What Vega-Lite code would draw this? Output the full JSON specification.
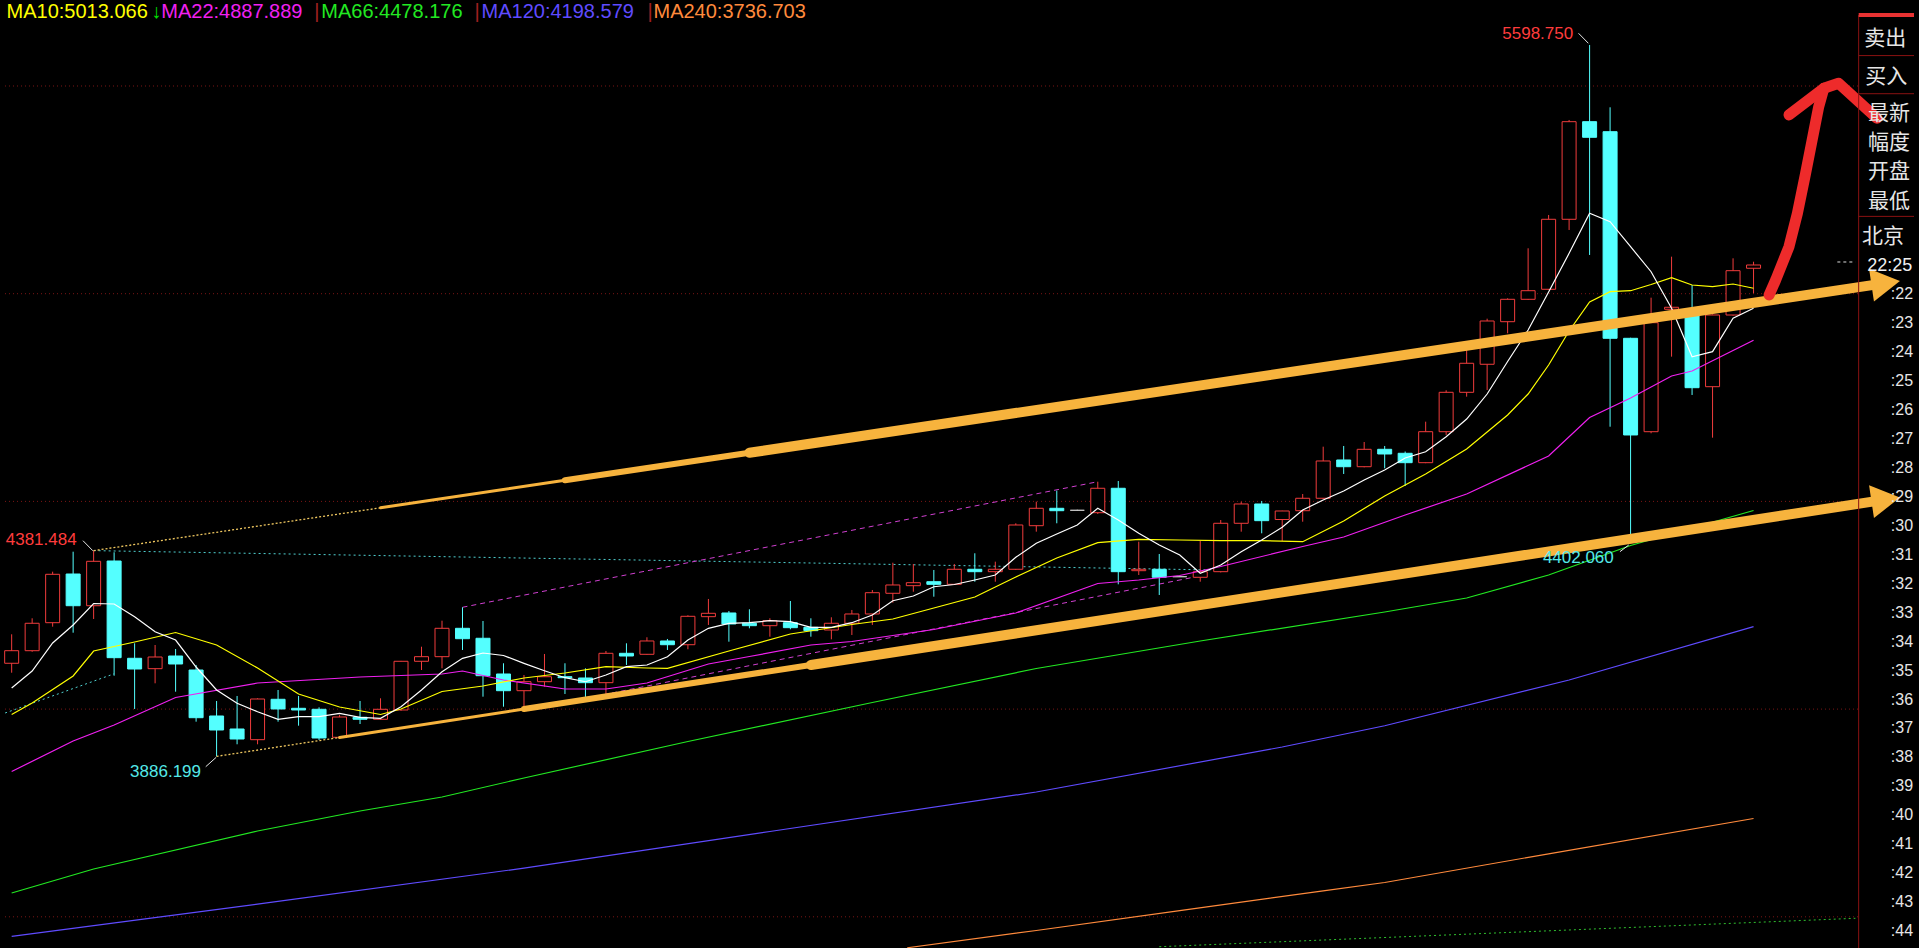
{
"$schema":"https://vega.github.io/schema/vega-lite/v6.json",
"width":1919,"height":948,"autosize":{"type":"none"},"padding":0,"background":"#000000",
"config":{"view":{"stroke":null}},
"datasets":{
"grid":[{"p":5500},{"p":5000},{"p":4500},{"p":4000},{"p":3500}],
"candles":[
{"i":0,"o":4110.3,"h":4180.1,"l":4087.6,"c":4140.6,"d":"up"},
{"i":1,"o":4140.6,"h":4218.6,"l":4138.0,"c":4206.6,"d":"up"},
{"i":2,"o":4208.0,"h":4330.8,"l":4198.4,"c":4324.5,"d":"up"},
{"i":3,"o":4325.2,"h":4378.9,"l":4183.9,"c":4248.9,"d":"down"},
{"i":4,"o":4248.9,"h":4381.5,"l":4216.9,"c":4355.8,"d":"up"},
{"i":5,"o":4356.5,"h":4377.5,"l":4080.4,"c":4123.8,"d":"down"},
{"i":6,"o":4122.3,"h":4158.4,"l":4000.3,"c":4096.5,"d":"down"},
{"i":7,"o":4097.3,"h":4154.3,"l":4062.1,"c":4125.4,"d":"up"},
{"i":8,"o":4127.8,"h":4144.7,"l":4041.9,"c":4108.6,"d":"down"},
{"i":9,"o":4094.1,"h":4106.2,"l":3969.7,"c":3979.3,"d":"down"},
{"i":10,"o":3983.4,"h":4019.5,"l":3886.2,"c":3949.7,"d":"down"},
{"i":11,"o":3952.1,"h":4031.6,"l":3915.3,"c":3928.0,"d":"down"},
{"i":12,"o":3926.4,"h":4026.0,"l":3915.3,"c":4024.3,"d":"up"},
{"i":13,"o":4023.6,"h":4046.0,"l":3969.7,"c":4000.3,"d":"down"},
{"i":14,"o":4001.9,"h":4031.6,"l":3960.1,"c":3997.9,"d":"down"},
{"i":15,"o":3999.5,"h":4004.3,"l":3925.6,"c":3930.4,"d":"down"},
{"i":16,"o":3932.1,"h":3985.8,"l":3930.0,"c":3981.0,"d":"up"},
{"i":17,"o":3980.3,"h":4019.5,"l":3964.1,"c":3975.5,"d":"down"},
{"i":18,"o":3975.5,"h":4026.0,"l":3973.8,"c":3999.5,"d":"up"},
{"i":19,"o":3997.9,"h":4116.0,"l":3996.0,"c":4115.1,"d":"up"},
{"i":20,"o":4115.1,"h":4150.2,"l":4094.1,"c":4126.2,"d":"up"},
{"i":21,"o":4126.2,"h":4212.8,"l":4098.2,"c":4194.5,"d":"up"},
{"i":22,"o":4194.5,"h":4245.1,"l":4142.3,"c":4169.5,"d":"down"},
{"i":23,"o":4170.5,"h":4212.1,"l":4029.9,"c":4080.4,"d":"down"},
{"i":24,"o":4084.5,"h":4110.3,"l":4005.8,"c":4044.3,"d":"down"},
{"i":25,"o":4044.3,"h":4082.1,"l":4001.9,"c":4066.0,"d":"up"},
{"i":26,"o":4066.0,"h":4132.7,"l":4053.9,"c":4078.0,"d":"up"},
{"i":27,"o":4078.0,"h":4110.3,"l":4036.4,"c":4075.6,"d":"down"},
{"i":28,"o":4074.9,"h":4098.2,"l":4026.0,"c":4063.6,"d":"down"},
{"i":29,"o":4063.6,"h":4139.9,"l":4036.4,"c":4134.3,"d":"up"},
{"i":30,"o":4134.3,"h":4158.4,"l":4106.2,"c":4127.8,"d":"down"},
{"i":31,"o":4131.9,"h":4172.9,"l":4131.0,"c":4164.0,"d":"up"},
{"i":32,"o":4164.0,"h":4168.8,"l":4142.3,"c":4155.0,"d":"down"},
{"i":33,"o":4155.0,"h":4225.8,"l":4144.0,"c":4223.4,"d":"up"},
{"i":34,"o":4222.5,"h":4265.1,"l":4202.5,"c":4230.6,"d":"up"},
{"i":35,"o":4231.4,"h":4236.2,"l":4162.3,"c":4204.9,"d":"down"},
{"i":36,"o":4206.6,"h":4240.3,"l":4194.5,"c":4200.8,"d":"down"},
{"i":37,"o":4200.8,"h":4218.6,"l":4174.3,"c":4212.8,"d":"up"},
{"i":38,"o":4208.0,"h":4260.2,"l":4192.1,"c":4196.0,"d":"down"},
{"i":39,"o":4196.9,"h":4218.6,"l":4174.3,"c":4188.8,"d":"down"},
{"i":40,"o":4190.4,"h":4221.0,"l":4168.0,"c":4206.6,"d":"up"},
{"i":41,"o":4206.6,"h":4238.6,"l":4178.4,"c":4229.0,"d":"up"},
{"i":42,"o":4229.0,"h":4286.7,"l":4202.5,"c":4280.2,"d":"up"},
{"i":43,"o":4278.8,"h":4352.4,"l":4256.2,"c":4298.8,"d":"up"},
{"i":44,"o":4297.1,"h":4349.3,"l":4282.6,"c":4304.3,"d":"up"},
{"i":45,"o":4306.7,"h":4334.9,"l":4270.6,"c":4300.4,"d":"down"},
{"i":46,"o":4300.4,"h":4349.3,"l":4299.0,"c":4336.6,"d":"up"},
{"i":47,"o":4336.6,"h":4375.1,"l":4306.7,"c":4330.8,"d":"down"},
{"i":48,"o":4330.8,"h":4354.9,"l":4306.7,"c":4336.6,"d":"up"},
{"i":49,"o":4336.6,"h":4447.3,"l":4335.0,"c":4443.2,"d":"up"},
{"i":50,"o":4441.5,"h":4499.3,"l":4427.1,"c":4483.4,"d":"up"},
{"i":51,"o":4483.4,"h":4525.8,"l":4447.3,"c":4477.6,"d":"down"},
{"i":52,"o":4478.6,"h":4480.0,"l":4477.0,"c":4478.6,"d":"flat"},
{"i":53,"o":4472.8,"h":4547.4,"l":4469.7,"c":4531.6,"d":"up"},
{"i":54,"o":4531.6,"h":4549.1,"l":4300.4,"c":4330.8,"d":"down"},
{"i":55,"o":4333.2,"h":4403.0,"l":4322.8,"c":4336.6,"d":"up"},
{"i":56,"o":4336.6,"h":4373.4,"l":4274.7,"c":4317.3,"d":"down"},
{"i":57,"o":4318.7,"h":4319.5,"l":4318.0,"c":4318.7,"d":"flat"},
{"i":58,"o":4317.3,"h":4404.7,"l":4306.7,"c":4330.8,"d":"up"},
{"i":59,"o":4330.8,"h":4455.2,"l":4329.0,"c":4447.3,"d":"up"},
{"i":60,"o":4447.3,"h":4499.3,"l":4427.1,"c":4493.8,"d":"up"},
{"i":61,"o":4493.8,"h":4501.0,"l":4423.2,"c":4453.6,"d":"down"},
{"i":62,"o":4456.4,"h":4477.5,"l":4404.7,"c":4476.9,"d":"up"},
{"i":63,"o":4477.6,"h":4517.8,"l":4451.1,"c":4507.5,"d":"up"},
{"i":64,"o":4507.5,"h":4631.7,"l":4506.0,"c":4597.3,"d":"up"},
{"i":65,"o":4599.7,"h":4633.4,"l":4566.0,"c":4583.5,"d":"down"},
{"i":66,"o":4583.5,"h":4643.0,"l":4582.0,"c":4625.4,"d":"up"},
{"i":67,"o":4625.4,"h":4633.4,"l":4579.7,"c":4614.1,"d":"down"},
{"i":68,"o":4615.8,"h":4620.1,"l":4537.1,"c":4593.2,"d":"down"},
{"i":69,"o":4593.2,"h":4691.9,"l":4592.0,"c":4667.8,"d":"up"},
{"i":70,"o":4667.8,"h":4767.5,"l":4659.9,"c":4762.6,"d":"up"},
{"i":71,"o":4762.6,"h":4864.5,"l":4752.1,"c":4832.5,"d":"up"},
{"i":72,"o":4830.1,"h":4939.8,"l":4768.2,"c":4934.3,"d":"up"},
{"i":73,"o":4932.6,"h":4988.9,"l":4904.7,"c":4986.5,"d":"up"},
{"i":74,"o":4986.5,"h":5109.3,"l":4985.0,"c":5007.2,"d":"up"},
{"i":75,"o":5010.6,"h":5189.5,"l":5009.0,"c":5179.1,"d":"up"},
{"i":76,"o":5179.1,"h":5418.2,"l":5153.4,"c":5414.1,"d":"up"},
{"i":77,"o":5414.1,"h":5598.75,"l":5093.2,"c":5376.5,"d":"down"},
{"i":78,"o":5390.0,"h":5448.7,"l":4679.8,"c":4892.6,"d":"down"},
{"i":79,"o":4892.6,"h":4894.0,"l":4402.06,"c":4659.9,"d":"down"},
{"i":80,"o":4667.8,"h":4990.4,"l":4664.0,"c":4930.2,"d":"up"},
{"i":81,"o":4962.5,"h":5089.1,"l":4848.4,"c":4967.3,"d":"up"},
{"i":82,"o":4946.3,"h":5021.0,"l":4756.2,"c":4773.7,"d":"down"},
{"i":83,"o":4776.1,"h":4950.0,"l":4653.4,"c":4948.7,"d":"up"},
{"i":84,"o":4948.7,"h":5085.2,"l":4947.0,"c":5055.4,"d":"up"},
{"i":85,"o":5061.2,"h":5077.0,"l":5001.0,"c":5069.1,"d":"up"}
],
"ma":[
{"m":"MA240","i":43.7,"p":3425.5},{"m":"MA240","i":50,"p":3467.0},{"m":"MA240","i":57,"p":3515.0},{"m":"MA240","i":64,"p":3562.6},{"m":"MA240","i":67,"p":3582.6},{"m":"MA240","i":75,"p":3651.7},{"m":"MA240","i":85,"p":3736.7},
{"m":"MA120","i":0,"p":3452.8},{"m":"MA120","i":12,"p":3530.6},{"m":"MA120","i":25,"p":3617.2},{"m":"MA120","i":37,"p":3705.3},{"m":"MA120","i":50,"p":3800.4},{"m":"MA120","i":62,"p":3908.7},{"m":"MA120","i":67,"p":3960.0},{"m":"MA120","i":76,"p":4070.0},{"m":"MA120","i":85,"p":4198.58},
{"m":"MA66","i":0,"p":3557.3},{"m":"MA66","i":4,"p":3615.1},{"m":"MA66","i":12,"p":3706.5},{"m":"MA66","i":17,"p":3754.7},{"m":"MA66","i":21,"p":3788.4},{"m":"MA66","i":25,"p":3834.1},{"m":"MA66","i":33,"p":3922.0},{"m":"MA66","i":42,"p":4015.9},{"m":"MA66","i":50,"p":4097.7},{"m":"MA66","i":58,"p":4163.9},{"m":"MA66","i":67,"p":4233.7},{"m":"MA66","i":71,"p":4267.4},{"m":"MA66","i":75,"p":4322.8},{"m":"MA66","i":79,"p":4393.8},{"m":"MA66","i":82,"p":4435.9},{"m":"MA66","i":85,"p":4478.18},
{"m":"MA22","i":0,"p":3849.8},{"m":"MA22","i":3,"p":3923.2},{"m":"MA22","i":5,"p":3961.7},{"m":"MA22","i":8,"p":4027.9},{"m":"MA22","i":12,"p":4062.8},{"m":"MA22","i":17,"p":4077.3},{"m":"MA22","i":21,"p":4084.5},{"m":"MA22","i":22,"p":4091.7},{"m":"MA22","i":24,"p":4070.0},{"m":"MA22","i":27,"p":4048.4},{"m":"MA22","i":29,"p":4048.4},{"m":"MA22","i":31,"p":4062.8},{"m":"MA22","i":34,"p":4108.6},{"m":"MA22","i":36,"p":4126.6},{"m":"MA22","i":39,"p":4154.3},{"m":"MA22","i":41,"p":4162.7},{"m":"MA22","i":43,"p":4177.2},{"m":"MA22","i":45,"p":4191.6},{"m":"MA22","i":49,"p":4231.3},{"m":"MA22","i":53,"p":4302.3},{"m":"MA22","i":55,"p":4310.8},{"m":"MA22","i":57,"p":4321.6},{"m":"MA22","i":59,"p":4343.3},{"m":"MA22","i":63,"p":4391.4},{"m":"MA22","i":65,"p":4414.3},{"m":"MA22","i":68,"p":4467.2},{"m":"MA22","i":71,"p":4517.8},{"m":"MA22","i":75,"p":4609.3},{"m":"MA22","i":77,"p":4702.0},{"m":"MA22","i":79,"p":4748.9},{"m":"MA22","i":81,"p":4801.9},{"m":"MA22","i":82,"p":4813.9},{"m":"MA22","i":85,"p":4887.89},
{"m":"MA10","i":0,"p":3987.0},{"m":"MA10","i":1,"p":4014.7},{"m":"MA10","i":3,"p":4079.7},{"m":"MA10","i":4,"p":4139.8},{"m":"MA10","i":6,"p":4161.5},{"m":"MA10","i":8,"p":4184.4},{"m":"MA10","i":10,"p":4154.3},{"m":"MA10","i":12,"p":4098.9},{"m":"MA10","i":14,"p":4036.3},{"m":"MA10","i":16,"p":4005.0},{"m":"MA10","i":18,"p":3987.0},{"m":"MA10","i":19,"p":4000.2},{"m":"MA10","i":21,"p":4042.3},{"m":"MA10","i":23,"p":4055.6},{"m":"MA10","i":25,"p":4074.9},{"m":"MA10","i":27,"p":4086.9},{"m":"MA10","i":29,"p":4102.1},{"m":"MA10","i":31,"p":4098.9},{"m":"MA10","i":32,"p":4098.2},{"m":"MA10","i":35,"p":4139.8},{"m":"MA10","i":38,"p":4180.8},{"m":"MA10","i":41,"p":4203.6},{"m":"MA10","i":43,"p":4216.9},{"m":"MA10","i":45,"p":4243.4},{"m":"MA10","i":47,"p":4269.8},{"m":"MA10","i":49,"p":4318.0},{"m":"MA10","i":51,"p":4363.7},{"m":"MA10","i":53,"p":4400.6},{"m":"MA10","i":55,"p":4408.7},{"m":"MA10","i":57,"p":4407.1},{"m":"MA10","i":59,"p":4405.4},{"m":"MA10","i":61,"p":4405.4},{"m":"MA10","i":63,"p":4403.0},{"m":"MA10","i":65,"p":4452.8},{"m":"MA10","i":67,"p":4513.0},{"m":"MA10","i":69,"p":4565.9},{"m":"MA10","i":71,"p":4626.1},{"m":"MA10","i":73,"p":4708.0},{"m":"MA10","i":74,"p":4758.5},{"m":"MA10","i":75,"p":4828.3},{"m":"MA10","i":76,"p":4910.2},{"m":"MA10","i":77,"p":4980.0},{"m":"MA10","i":78,"p":5004.8},{"m":"MA10","i":79,"p":5007.2},{"m":"MA10","i":80,"p":5022.1},{"m":"MA10","i":81,"p":5038.5},{"m":"MA10","i":82,"p":5020.9},{"m":"MA10","i":83,"p":5016.8},{"m":"MA10","i":84,"p":5023.3},{"m":"MA10","i":85,"p":5013.07},
{"m":"MA5","i":0,"p":4050.8},{"m":"MA5","i":1,"p":4091.7},{"m":"MA5","i":2,"p":4159.1},{"m":"MA5","i":3,"p":4202.4},{"m":"MA5","i":4,"p":4254.2},{"m":"MA5","i":5,"p":4253.0},{"m":"MA5","i":6,"p":4222.4},{"m":"MA5","i":7,"p":4186.3},{"m":"MA5","i":8,"p":4166.3},{"m":"MA5","i":9,"p":4101.3},{"m":"MA5","i":10,"p":4046.0},{"m":"MA5","i":11,"p":4013.9},{"m":"MA5","i":12,"p":3993.7},{"m":"MA5","i":13,"p":3975.4},{"m":"MA5","i":14,"p":3981.7},{"m":"MA5","i":15,"p":3981.7},{"m":"MA5","i":16,"p":3989.9},{"m":"MA5","i":17,"p":3980.2},{"m":"MA5","i":18,"p":3977.8},{"m":"MA5","i":19,"p":4005.8},{"m":"MA5","i":20,"p":4046.0},{"m":"MA5","i":21,"p":4090.0},{"m":"MA5","i":22,"p":4122.3},{"m":"MA5","i":23,"p":4135.0},{"m":"MA5","i":24,"p":4129.0},{"m":"MA5","i":25,"p":4110.2},{"m":"MA5","i":26,"p":4092.4},{"m":"MA5","i":27,"p":4075.6},{"m":"MA5","i":28,"p":4065.9},{"m":"MA5","i":29,"p":4082.1},{"m":"MA5","i":30,"p":4102.1},{"m":"MA5","i":31,"p":4106.1},{"m":"MA5","i":32,"p":4126.1},{"m":"MA5","i":33,"p":4166.3},{"m":"MA5","i":34,"p":4194.5},{"m":"MA5","i":35,"p":4206.5},{"m":"MA5","i":36,"p":4208.0},{"m":"MA5","i":37,"p":4212.8},{"m":"MA5","i":38,"p":4210.4},{"m":"MA5","i":39,"p":4196.9},{"m":"MA5","i":40,"p":4196.9},{"m":"MA5","i":41,"p":4208.0},{"m":"MA5","i":42,"p":4226.5},{"m":"MA5","i":43,"p":4260.9},{"m":"MA5","i":44,"p":4272.2},{"m":"MA5","i":45,"p":4294.6},{"m":"MA5","i":46,"p":4299.9},{"m":"MA5","i":47,"p":4310.8},{"m":"MA5","i":48,"p":4322.8},{"m":"MA5","i":49,"p":4365.4},{"m":"MA5","i":50,"p":4399.1},{"m":"MA5","i":51,"p":4421.5},{"m":"MA5","i":52,"p":4443.2},{"m":"MA5","i":53,"p":4483.4},{"m":"MA5","i":54,"p":4455.2},{"m":"MA5","i":55,"p":4423.2},{"m":"MA5","i":56,"p":4395.0},{"m":"MA5","i":57,"p":4370.9},{"m":"MA5","i":58,"p":4326.9},{"m":"MA5","i":59,"p":4346.9},{"m":"MA5","i":60,"p":4378.9},{"m":"MA5","i":61,"p":4407.1},{"m":"MA5","i":62,"p":4437.6},{"m":"MA5","i":63,"p":4479.3},{"m":"MA5","i":64,"p":4503.3},{"m":"MA5","i":65,"p":4525.0},{"m":"MA5","i":66,"p":4551.5},{"m":"MA5","i":67,"p":4575.6},{"m":"MA5","i":68,"p":4604.5},{"m":"MA5","i":69,"p":4619.6},{"m":"MA5","i":70,"p":4655.7},{"m":"MA5","i":71,"p":4698.3},{"m":"MA5","i":72,"p":4758.5},{"m":"MA5","i":73,"p":4836.8},{"m":"MA5","i":74,"p":4912.6},{"m":"MA5","i":75,"p":5004.1},{"m":"MA5","i":76,"p":5097.2},{"m":"MA5","i":77,"p":5193.5},{"m":"MA5","i":78,"p":5173.3},{"m":"MA5","i":79,"p":5113.1},{"m":"MA5","i":80,"p":5052.9},{"m":"MA5","i":81,"p":4964.8},{"m":"MA5","i":82,"p":4848.3},{"m":"MA5","i":83,"p":4860.4},{"m":"MA5","i":84,"p":4940.8},{"m":"MA5","i":85,"p":4964.8}
],
"guides":[
{"g":"a","col":"cyan","dash":"dot","i":4,"p":4381.5},{"g":"a","col":"cyan","dash":"dot","i":58.66,"p":4334.9},
{"g":"b","col":"cyan","dash":"dot","i":-0.32,"p":3990.6},{"g":"b","col":"cyan","dash":"dot","i":5,"p":4085.0},
{"g":"c","col":"mag","dash":"dash","i":22,"p":4245.1},{"g":"c","col":"mag","dash":"dash","i":53,"p":4547.4},
{"g":"d","col":"mag","dash":"dash","i":28,"p":4026.0},{"g":"d","col":"mag","dash":"dash","i":58,"p":4320.6},
{"g":"e","col":"greenDot","dash":"dot","i":56,"p":3428.0},{"g":"e","col":"greenDot","dash":"dot","i":89.97,"p":3496.4}
],
"trend":[
{"k":"U1","seg":"w1","i":4,"p":4381.5},{"k":"U1","seg":"w1","i":18,"p":4484.6},
{"k":"U3","seg":"w3","i":18,"p":4484.6},{"k":"U3","seg":"w3","i":27,"p":4550.9},
{"k":"U6","seg":"w6","i":27,"p":4550.9},{"k":"U6","seg":"w6","i":36,"p":4617.1},
{"k":"U10","seg":"w10","i":36,"p":4617.1},{"k":"U10","seg":"w10","i":91.2,"p":5023.6},
{"k":"L1","seg":"w1","i":10,"p":3886.2},{"k":"L1","seg":"w1","i":16,"p":3931.7},
{"k":"L3","seg":"w3","i":16,"p":3931.7},{"k":"L3","seg":"w3","i":25,"p":4000.1},
{"k":"L6","seg":"w6","i":25,"p":4000.1},{"k":"L6","seg":"w6","i":39,"p":4106.3},
{"k":"L10","seg":"w10","i":39,"p":4106.3},{"k":"L10","seg":"w10","i":91.2,"p":4502.5}
],
"heads":[{"i":91.45,"p":5025.5},{"i":91.45,"p":4504.4}],
"red":[
{"s":"shaft","q":1,"i":85.76,"p":4996.9},{"s":"shaft","q":2,"i":86.08,"p":5032.9},{"s":"shaft","q":3,"i":86.73,"p":5113.1},{"s":"shaft","q":4,"i":87.14,"p":5193.5},{"s":"shaft","q":5,"i":87.54,"p":5289.8},{"s":"shaft","q":6,"i":87.86,"p":5370.0},{"s":"shaft","q":7,"i":88.18,"p":5450.2},{"s":"shaft","q":8,"i":88.43,"p":5494.5},
{"s":"head","q":1,"i":86.73,"p":5430.2},{"s":"head","q":2,"i":88.43,"p":5494.5},{"s":"head","q":3,"i":89.15,"p":5506.5},{"s":"head","q":4,"i":91.02,"p":5422.2}
],
"pointers":[
{"i":3.48,"p":4405.4,"i2":3.96,"p2":4381.3},
{"i":9.47,"p":3861.3,"i2":9.98,"p2":3883.9},
{"i":76.46,"p":5626.9,"i2":76.94,"p2":5602.8},
{"i":78.48,"p":4378.9,"i2":78.91,"p2":4395.0}
],
"labels":[
{"t":"4381.484","k":"high","i":3.17,"p":4395.1},
{"t":"3886.199","k":"low","i":9.24,"p":3836.5},
{"t":"5598.750","k":"high","i":76.2,"p":5612.4},
{"t":"4402.060","k":"low","i":78.18,"p":4351.0}
],
"legend":[
{"t":"MA10:5013.066","k":"MA10","i":-0.25,"p":5664.5},
{"t":"↓","k":"arrow","i":6.81,"p":5664.5},
{"t":"MA22:4887.889","k":"MA22","i":7.3,"p":5664.5},
{"t":"|","k":"sep","i":14.77,"p":5664.5},
{"t":"MA66:4478.176","k":"MA66","i":15.11,"p":5664.5},
{"t":"|","k":"sep","i":22.59,"p":5664.5},
{"t":"MA120:4198.579","k":"MA120","i":22.93,"p":5664.5},
{"t":"|","k":"sep","i":31.03,"p":5664.5},
{"t":"MA240:3736.703","k":"MA240","i":31.32,"p":5664.5}
],
"frame":[
{"k":"line","i":90.13,"p":5670.9,"i2":90.13,"p2":3424.9},
{"k":"line","i":90.13,"p":5573.2,"i2":92.83,"p2":5573.2},
{"k":"line","i":90.13,"p":5481.4,"i2":92.83,"p2":5481.4},
{"k":"line","i":90.13,"p":5186.1,"i2":92.83,"p2":5186.1},
{"k":"top","i":90.13,"p":5670.9,"i2":92.83,"p2":5670.9},
{"k":"mark","i":89.09,"p":5076.3,"i2":89.97,"p2":5076.3}
],
"panel":[
{"g":"head","t":"卖出","i":90.4,"p":5613.6},
{"g":"head","t":"买入","i":90.45,"p":5521.7},
{"g":"head","t":"最新","i":90.58,"p":5433.3},
{"g":"head","t":"幅度","i":90.58,"p":5362.1},
{"g":"head","t":"开盘","i":90.58,"p":5291.8},
{"g":"head","t":"最低","i":90.58,"p":5221.5},
{"g":"head","t":"北京","i":90.29,"p":5135.3},
{"g":"time","t":"22:25","i":90.55,"p":5066.7},
{"g":"list","t":":22","i":91.7,"p":4998.3},
{"g":"list","t":":23","i":91.7,"p":4928.7},
{"g":"list","t":":24","i":91.7,"p":4859.0},
{"g":"list","t":":25","i":91.7,"p":4789.3},
{"g":"list","t":":26","i":91.7,"p":4719.6},
{"g":"list","t":":27","i":91.7,"p":4650.0},
{"g":"list","t":":28","i":91.7,"p":4580.3},
{"g":"list","t":":29","i":91.7,"p":4510.6},
{"g":"list","t":":30","i":91.7,"p":4441.0},
{"g":"list","t":":31","i":91.7,"p":4371.3},
{"g":"list","t":":32","i":91.7,"p":4301.6},
{"g":"list","t":":33","i":91.7,"p":4231.9},
{"g":"list","t":":34","i":91.7,"p":4162.3},
{"g":"list","t":":35","i":91.7,"p":4092.6},
{"g":"list","t":":36","i":91.7,"p":4022.9},
{"g":"list","t":":37","i":91.7,"p":3953.3},
{"g":"list","t":":38","i":91.7,"p":3883.6},
{"g":"list","t":":39","i":91.7,"p":3813.9},
{"g":"list","t":":40","i":91.7,"p":3744.2},
{"g":"list","t":":41","i":91.7,"p":3674.6},
{"g":"list","t":":42","i":91.7,"p":3604.9},
{"g":"list","t":":43","i":91.7,"p":3535.2},
{"g":"list","t":":44","i":91.7,"p":3465.6}
]
},
"layer":[
{"data":{"name":"grid"},"mark":{"type":"rule","color":"#7a1515","strokeDash":[1,3],"strokeWidth":1},
 "encoding":{"x":{"datum":-0.325,"type":"quantitative","scale":{"domain":[-0.325,92.83],"nice":false,"zero":false},"axis":null},"x2":{"datum":90.1},
 "y":{"field":"p","type":"quantitative","scale":{"domain":[3424.9,5707],"nice":false,"zero":false},"axis":null}}},
{"data":{"name":"guides"},"mark":{"type":"line","strokeWidth":1,"clip":true},
 "encoding":{"x":{"field":"i","type":"quantitative","scale":{"domain":[-0.325,92.83],"nice":false,"zero":false},"axis":null},
 "y":{"field":"p","type":"quantitative","scale":{"domain":[3424.9,5707],"nice":false,"zero":false},"axis":null},
 "detail":{"field":"g"},
 "color":{"field":"col","type":"nominal","legend":null,"scale":{"domain":["up","down","flat","MA5","MA10","MA22","MA66","MA120","MA240","cyan","mag","greenDot","high","low","sep","arrow"],"range":["#f03c3c","#54ffff","#c8c8c8","#ffffff","#ffff00","#f020f0","#22e822","#5f4bff","#ff8a3c","#4fd0d0","#d040d0","#2fbf2f","#ff3c3c","#54e8e8","#a02020","#00e000"]}},
 "strokeDash":{"field":"dash","type":"nominal","legend":null,"scale":{"domain":["dot","dash"],"range":[[2,3],[5,4]]}}}},
{"data":{"name":"candles"},"mark":{"type":"rule","strokeWidth":1},
 "encoding":{"x":{"field":"i","type":"quantitative","scale":{"domain":[-0.325,92.83],"nice":false,"zero":false},"axis":null},
 "y":{"field":"l","type":"quantitative","scale":{"domain":[3424.9,5707],"nice":false,"zero":false},"axis":null},"y2":{"field":"h"},
 "color":{"field":"d","type":"nominal","legend":null,"scale":{"domain":["up","down","flat","MA5","MA10","MA22","MA66","MA120","MA240","cyan","mag","greenDot","high","low","sep","arrow"],"range":["#f03c3c","#54ffff","#c8c8c8","#ffffff","#ffff00","#f020f0","#22e822","#5f4bff","#ff8a3c","#4fd0d0","#d040d0","#2fbf2f","#ff3c3c","#54e8e8","#a02020","#00e000"]}}}},
{"data":{"name":"candles"},"mark":{"type":"bar","size":14,"strokeWidth":1},
 "encoding":{"x":{"field":"i","type":"quantitative","scale":{"domain":[-0.325,92.83],"nice":false,"zero":false},"axis":null},
 "y":{"field":"o","type":"quantitative","scale":{"domain":[3424.9,5707],"nice":false,"zero":false},"axis":null},"y2":{"field":"c"},
 "fill":{"field":"d","type":"nominal","legend":null,"scale":{"domain":["up","down","flat"],"range":["#000000","#54ffff","#c8c8c8"]}},
 "stroke":{"field":"d","type":"nominal","legend":null,"scale":{"domain":["up","down","flat"],"range":["#f03c3c","#54ffff","#c8c8c8"]}}}},
{"data":{"name":"ma"},"mark":{"type":"line","strokeWidth":1.2,"clip":true},
 "encoding":{"x":{"field":"i","type":"quantitative","scale":{"domain":[-0.325,92.83],"nice":false,"zero":false},"axis":null},
 "y":{"field":"p","type":"quantitative","scale":{"domain":[3424.9,5707],"nice":false,"zero":false},"axis":null},
 "color":{"field":"m","type":"nominal","legend":null,"scale":{"domain":["up","down","flat","MA5","MA10","MA22","MA66","MA120","MA240","cyan","mag","greenDot","high","low","sep","arrow"],"range":["#f03c3c","#54ffff","#c8c8c8","#ffffff","#ffff00","#f020f0","#22e822","#5f4bff","#ff8a3c","#4fd0d0","#d040d0","#2fbf2f","#ff3c3c","#54e8e8","#a02020","#00e000"]}}}},
{"data":{"name":"trend"},"transform":[{"filter":"datum.seg == 'w1'"}],"mark":{"type":"line","color":"#f0c860","strokeWidth":1.3,"strokeDash":[2,2],"clip":true},
 "encoding":{"x":{"field":"i","type":"quantitative","scale":{"domain":[-0.325,92.83],"nice":false,"zero":false},"axis":null},
 "y":{"field":"p","type":"quantitative","scale":{"domain":[3424.9,5707],"nice":false,"zero":false},"axis":null},
 "detail":{"field":"k"}}},
{"data":{"name":"trend"},"transform":[{"filter":"datum.seg == 'w3'"}],"mark":{"type":"line","color":"#f7b33d","strokeWidth":3,"strokeCap":"round","clip":true},
 "encoding":{"x":{"field":"i","type":"quantitative","scale":{"domain":[-0.325,92.83],"nice":false,"zero":false},"axis":null},
 "y":{"field":"p","type":"quantitative","scale":{"domain":[3424.9,5707],"nice":false,"zero":false},"axis":null},
 "detail":{"field":"k"}}},
{"data":{"name":"trend"},"transform":[{"filter":"datum.seg == 'w6'"}],"mark":{"type":"line","color":"#f7b33d","strokeWidth":6,"strokeCap":"round","clip":true},
 "encoding":{"x":{"field":"i","type":"quantitative","scale":{"domain":[-0.325,92.83],"nice":false,"zero":false},"axis":null},
 "y":{"field":"p","type":"quantitative","scale":{"domain":[3424.9,5707],"nice":false,"zero":false},"axis":null},
 "detail":{"field":"k"}}},
{"data":{"name":"trend"},"transform":[{"filter":"datum.seg == 'w10'"}],"mark":{"type":"line","color":"#f7b33d","strokeWidth":10,"strokeCap":"round","clip":true},
 "encoding":{"x":{"field":"i","type":"quantitative","scale":{"domain":[-0.325,92.83],"nice":false,"zero":false},"axis":null},
 "y":{"field":"p","type":"quantitative","scale":{"domain":[3424.9,5707],"nice":false,"zero":false},"axis":null},
 "detail":{"field":"k"}}},
{"data":{"name":"heads"},"mark":{"type":"point","shape":"triangle-right","filled":true,"size":1100,"angle":351.5,"color":"#f7b33d","opacity":1,"strokeWidth":0},
 "encoding":{"x":{"field":"i","type":"quantitative","scale":{"domain":[-0.325,92.83],"nice":false,"zero":false},"axis":null},
 "y":{"field":"p","type":"quantitative","scale":{"domain":[3424.9,5707],"nice":false,"zero":false},"axis":null}}},
{"data":{"name":"red"},"mark":{"type":"line","color":"#ee2b2b","strokeWidth":11,"strokeCap":"round","strokeJoin":"round"},
 "encoding":{"x":{"field":"i","type":"quantitative","scale":{"domain":[-0.325,92.83],"nice":false,"zero":false},"axis":null},
 "y":{"field":"p","type":"quantitative","scale":{"domain":[3424.9,5707],"nice":false,"zero":false},"axis":null},
 "detail":{"field":"s"},"order":{"field":"q"}}},
{"data":{"name":"pointers"},"mark":{"type":"rule","color":"#e6e6e6","strokeWidth":1},
 "encoding":{"x":{"field":"i","type":"quantitative","scale":{"domain":[-0.325,92.83],"nice":false,"zero":false},"axis":null},
 "y":{"field":"p","type":"quantitative","scale":{"domain":[3424.9,5707],"nice":false,"zero":false},"axis":null},
 "x2":{"field":"i2"},"y2":{"field":"p2"}}},
{"data":{"name":"labels"},"mark":{"type":"text","align":"right","baseline":"alphabetic","font":"Liberation Sans","fontSize":17},
 "encoding":{"x":{"field":"i","type":"quantitative","scale":{"domain":[-0.325,92.83],"nice":false,"zero":false},"axis":null},
 "y":{"field":"p","type":"quantitative","scale":{"domain":[3424.9,5707],"nice":false,"zero":false},"axis":null},
 "text":{"field":"t"},
 "color":{"field":"k","type":"nominal","legend":null,"scale":{"domain":["up","down","flat","MA5","MA10","MA22","MA66","MA120","MA240","cyan","mag","greenDot","high","low","sep","arrow"],"range":["#f03c3c","#54ffff","#c8c8c8","#ffffff","#ffff00","#f020f0","#22e822","#5f4bff","#ff8a3c","#4fd0d0","#d040d0","#2fbf2f","#ff3c3c","#54e8e8","#a02020","#00e000"]}}}},
{"data":{"name":"legend"},"mark":{"type":"text","align":"left","baseline":"alphabetic","font":"Liberation Sans","fontSize":20},
 "encoding":{"x":{"field":"i","type":"quantitative","scale":{"domain":[-0.325,92.83],"nice":false,"zero":false},"axis":null},
 "y":{"field":"p","type":"quantitative","scale":{"domain":[3424.9,5707],"nice":false,"zero":false},"axis":null},
 "text":{"field":"t"},
 "color":{"field":"k","type":"nominal","legend":null,"scale":{"domain":["up","down","flat","MA5","MA10","MA22","MA66","MA120","MA240","cyan","mag","greenDot","high","low","sep","arrow"],"range":["#f03c3c","#54ffff","#c8c8c8","#ffffff","#ffff00","#f020f0","#22e822","#5f4bff","#ff8a3c","#4fd0d0","#d040d0","#2fbf2f","#ff3c3c","#54e8e8","#a02020","#00e000"]}}}},
{"data":{"name":"frame"},"transform":[{"filter":"datum.k == 'line'"}],"mark":{"type":"rule","color":"#8a1212","strokeWidth":1},
 "encoding":{"x":{"field":"i","type":"quantitative","scale":{"domain":[-0.325,92.83],"nice":false,"zero":false},"axis":null},
 "y":{"field":"p","type":"quantitative","scale":{"domain":[3424.9,5707],"nice":false,"zero":false},"axis":null},
 "x2":{"field":"i2"},"y2":{"field":"p2"}}},
{"data":{"name":"frame"},"transform":[{"filter":"datum.k == 'top'"}],"mark":{"type":"rule","color":"#e83232","strokeWidth":4},
 "encoding":{"x":{"field":"i","type":"quantitative","scale":{"domain":[-0.325,92.83],"nice":false,"zero":false},"axis":null},
 "y":{"field":"p","type":"quantitative","scale":{"domain":[3424.9,5707],"nice":false,"zero":false},"axis":null},
 "x2":{"field":"i2"},"y2":{"field":"p2"}}},
{"data":{"name":"frame"},"transform":[{"filter":"datum.k == 'mark'"}],"mark":{"type":"rule","color":"#dddddd","strokeWidth":1,"strokeDash":[3,3]},
 "encoding":{"x":{"field":"i","type":"quantitative","scale":{"domain":[-0.325,92.83],"nice":false,"zero":false},"axis":null},
 "y":{"field":"p","type":"quantitative","scale":{"domain":[3424.9,5707],"nice":false,"zero":false},"axis":null},
 "x2":{"field":"i2"},"y2":{"field":"p2"}}},
{"data":{"name":"panel"},"transform":[{"filter":"datum.g == 'head'"}],"mark":{"type":"text","align":"left","baseline":"middle","font":"Noto Sans CJK SC","fontSize":21,"color":"#e6e6e6"},
 "encoding":{"x":{"field":"i","type":"quantitative","scale":{"domain":[-0.325,92.83],"nice":false,"zero":false},"axis":null},
 "y":{"field":"p","type":"quantitative","scale":{"domain":[3424.9,5707],"nice":false,"zero":false},"axis":null},
 "text":{"field":"t"}}},
{"data":{"name":"panel"},"transform":[{"filter":"datum.g == 'time'"}],"mark":{"type":"text","align":"left","baseline":"middle","font":"Liberation Sans","fontSize":18,"color":"#f0f0f0"},
 "encoding":{"x":{"field":"i","type":"quantitative","scale":{"domain":[-0.325,92.83],"nice":false,"zero":false},"axis":null},
 "y":{"field":"p","type":"quantitative","scale":{"domain":[3424.9,5707],"nice":false,"zero":false},"axis":null},
 "text":{"field":"t"}}},
{"data":{"name":"panel"},"transform":[{"filter":"datum.g == 'list'"}],"mark":{"type":"text","align":"left","baseline":"middle","font":"Liberation Sans","fontSize":16,"color":"#e6e6e6"},
 "encoding":{"x":{"field":"i","type":"quantitative","scale":{"domain":[-0.325,92.83],"nice":false,"zero":false},"axis":null},
 "y":{"field":"p","type":"quantitative","scale":{"domain":[3424.9,5707],"nice":false,"zero":false},"axis":null},
 "text":{"field":"t"}}}
]
}
